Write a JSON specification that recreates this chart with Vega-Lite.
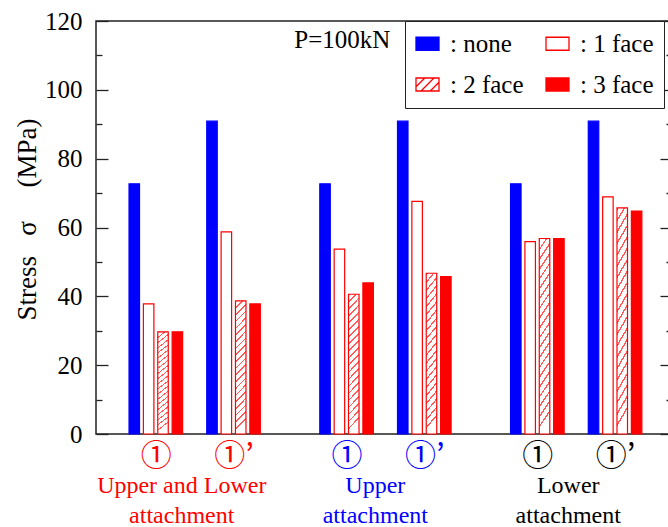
{
  "$schema": "https://vega.github.io/schema/vega-lite/v6.json",
  "width": 576,
  "height": 413,
  "autosize": {"type": "none"},
  "padding": {"left": 96, "top": 21, "right": 0, "bottom": 93},
  "background": "white",
  "config": {"view": {"stroke": "#222222", "strokeWidth": 1.5}, "font": "Liberation Serif"},
  "data": {"values": [
    {"case": "①", "pair": "Upper and Lower", "pos": 0, "series": "none", "value": 72.7},
    {"case": "①", "pair": "Upper and Lower", "pos": 0, "series": "1 face", "value": 37.8},
    {"case": "①", "pair": "Upper and Lower", "pos": 0, "series": "2 face", "value": 29.7},
    {"case": "①", "pair": "Upper and Lower", "pos": 0, "series": "3 face", "value": 29.7},
    {"case": "①’", "pair": "Upper and Lower", "pos": 11, "series": "none", "value": 90.9},
    {"case": "①’", "pair": "Upper and Lower", "pos": 11, "series": "1 face", "value": 58.7},
    {"case": "①’", "pair": "Upper and Lower", "pos": 11, "series": "2 face", "value": 38.7},
    {"case": "①’", "pair": "Upper and Lower", "pos": 11, "series": "3 face", "value": 37.8},
    {"case": "①", "pair": "Upper", "pos": 27, "series": "none", "value": 72.7},
    {"case": "①", "pair": "Upper", "pos": 27, "series": "1 face", "value": 53.7},
    {"case": "①", "pair": "Upper", "pos": 27, "series": "2 face", "value": 40.6},
    {"case": "①", "pair": "Upper", "pos": 27, "series": "3 face", "value": 43.9},
    {"case": "①’", "pair": "Upper", "pos": 38, "series": "none", "value": 90.9},
    {"case": "①’", "pair": "Upper", "pos": 38, "series": "1 face", "value": 67.6},
    {"case": "①’", "pair": "Upper", "pos": 38, "series": "2 face", "value": 46.7},
    {"case": "①’", "pair": "Upper", "pos": 38, "series": "3 face", "value": 45.7},
    {"case": "①", "pair": "Lower", "pos": 54, "series": "none", "value": 72.7},
    {"case": "①", "pair": "Lower", "pos": 54, "series": "1 face", "value": 55.9},
    {"case": "①", "pair": "Lower", "pos": 54, "series": "2 face", "value": 56.8},
    {"case": "①", "pair": "Lower", "pos": 54, "series": "3 face", "value": 56.8},
    {"case": "①’", "pair": "Lower", "pos": 65, "series": "none", "value": 90.9},
    {"case": "①’", "pair": "Lower", "pos": 65, "series": "1 face", "value": 68.9},
    {"case": "①’", "pair": "Lower", "pos": 65, "series": "2 face", "value": 65.7},
    {"case": "①’", "pair": "Lower", "pos": 65, "series": "3 face", "value": 64.8}
  ]},
  "resolve": {"axis": {"x": "independent", "y": "independent"}},
  "layer": [
    {
      "transform": [{"filter": "datum.series === 'none'"}],
      "mark": {"type": "bar", "orient": "vertical", "width": 10.5, "xOffset": -21.55, "strokeWidth": 1.2},
      "encoding": {
        "x": {"field": "pos", "type": "quantitative", "scale": {"domain": [-7.76, 72.35], "nice": false, "zero": false},
          "axis": {"orient": "bottom", "values": [0, 11, 27, 38, 54, 65], "title": null, "domain": false, "ticks": false, "grid": false,
            "labelExpr": "(datum.value == 11 || datum.value == 38 || datum.value == 65) ? '①’' : '①'",
            "labelFont": "Noto Sans CJK JP", "labelFontSize": 31, "labelPadding": 7, "labelFlush": false, "labelOverlap": false, "labelBound": false,
            "labelColor": {"condition": [{"test": "datum.value < 20", "value": "#ff0000"}, {"test": "datum.value < 45", "value": "#0000ff"}], "value": "#000000"}}},
        "y": {"field": "value", "type": "quantitative", "stack": null, "scale": {"domain": [0, 120], "nice": false, "zero": true},
          "axis": {"orient": "left", "values": [0, 10, 20, 30, 40, 50, 60, 70, 80, 90, 100, 110, 120], "grid": false, "domain": false,
            "tickColor": "#222222", "tickWidth": 1.3,
            "tickSize": {"condition": {"test": "datum.value % 20 === 0", "value": -12}, "value": -6},
            "labelExpr": "datum.value % 20 === 0 ? datum.label : ''",
            "labelFont": "Liberation Serif", "labelFontSize": 25, "labelColor": "#000000", "labelPadding": 26,
            "labelOverlap": false, "labelFlush": false, "labelBound": false,
            "title": "Stress\u00a0\u00a0\u00a0σ\u00a0\u00a0\u00a0\u00a0\u00a0(MPa)", "titleFont": "Liberation Serif", "titleFontSize": 27, "titleFontWeight": "normal", "titleColor": "#000000", "titlePadding": 3, "titleY": 198}},
        "fill": {"field": "series", "type": "nominal",
          "scale": {"domain": ["none", "1 face", "2 face", "3 face"], "range": ["#0000ff", "#ffffff", "#ffffff", "#ff0000"]},
          "legend": {"orient": "none", "legendX": 309, "legendY": 0, "columns": 2, "direction": "horizontal", "title": null, "padding": 10, "rowPadding": 15, "columnPadding": 19,
            "labelFont": "Liberation Serif", "labelFontSize": 25, "labelColor": "#000000", "labelOffset": 10,
            "symbolSize": 529, "symbolType": "M-1,-0.565H1V0.565H-1Z", "symbolStrokeWidth": 1.3,
            "strokeColor": "#222222", "fillColor": "#ffffff",
            "labelExpr": "': ' + datum.label + ((datum.label == '1 face' || datum.label == '3 face') ? '\u00a0\u00a0\u00a0' : '')",
            "encode": {"symbols": {"update": {"shape": {"signal": "datum.value === '2 face' ? 'M-1,-0.565H1V0.565H-1Z M-1,0.2L-0.235,-0.565 M-0.565,0.565L0.565,-0.565 M0.235,0.565L1,-0.2' : 'M-1,-0.565H1V0.565H-1Z'"}}}}}},
        "stroke": {"field": "series", "type": "nominal",
          "scale": {"domain": ["none", "1 face", "2 face", "3 face"], "range": ["#0000ff", "#ff0000", "#ff0000", "#ff0000"]},
          "legend": {"orient": "none", "legendX": 309, "legendY": 0, "columns": 2, "direction": "horizontal", "title": null, "padding": 10, "rowPadding": 15, "columnPadding": 19,
            "labelFont": "Liberation Serif", "labelFontSize": 25, "labelColor": "#000000", "labelOffset": 10,
            "symbolSize": 529, "symbolType": "M-1,-0.565H1V0.565H-1Z", "symbolStrokeWidth": 1.3,
            "strokeColor": "#222222", "fillColor": "#ffffff",
            "labelExpr": "': ' + datum.label + ((datum.label == '1 face' || datum.label == '3 face') ? '\u00a0\u00a0\u00a0' : '')",
            "encode": {"symbols": {"update": {"shape": {"signal": "datum.value === '2 face' ? 'M-1,-0.565H1V0.565H-1Z M-1,0.2L-0.235,-0.565 M-0.565,0.565L0.565,-0.565 M0.235,0.565L1,-0.2' : 'M-1,-0.565H1V0.565H-1Z'"}}}}}}
      }
    },
    {
      "transform": [{"filter": "datum.series === '1 face'"}],
      "mark": {"type": "bar", "orient": "vertical", "width": 10.5, "xOffset": -7.18, "fill": "#ffffff", "stroke": "#ff0000", "strokeWidth": 1.2},
      "encoding": {
        "x": {"field": "pos", "type": "quantitative",
          "axis": {"orient": "bottom", "values": [3.6, 31, 58.3], "title": null, "domain": false, "ticks": false, "grid": false,
            "labelExpr": "datum.value < 20 ? ['Upper and Lower', 'attachment'] : datum.value < 45 ? ['Upper', 'attachment'] : ['Lower', 'attachment']",
            "labelFont": "Liberation Serif", "labelFontSize": 24, "labelLineHeight": 30, "labelPadding": 39, "labelFlush": false, "labelOverlap": false, "labelBound": false,
            "labelColor": {"condition": [{"test": "datum.value < 20", "value": "#ff0000"}, {"test": "datum.value < 45", "value": "#0000ff"}], "value": "#000000"},
            "encode": {"labels": {"update": {"font": {"value": "Liberation Serif"}, "fontSize": {"value": 24}}}}}},
        "y": {"field": "value", "type": "quantitative", "stack": null,
          "axis": {"orient": "right", "values": [0, 10, 20, 30, 40, 50, 60, 70, 80, 90, 100, 110, 120], "grid": false, "domain": false, "labels": false, "title": null,
            "tickColor": "#222222", "tickWidth": 1.3,
            "tickSize": {"condition": {"test": "datum.value % 20 === 0", "value": -12}, "value": -6}}}
      }
    },
    {
      "transform": [{"filter": "datum.series === '2 face'"}],
      "mark": {"type": "bar", "orient": "vertical", "width": 10.5, "xOffset": 7.18, "stroke": "#ff0000", "strokeWidth": 1.2,
        "fill": {"gradient": "linear", "x1": 0, "y1": 0, "x2": 0.08, "y2": 1, "stops": [
          {"offset": 0, "color": "#ff5a5a"}, {"offset": 0.012, "color": "#ff5a5a"}, {"offset": 0.012, "color": "#ffffff"}, {"offset": 0.05, "color": "#ffffff"},
          {"offset": 0.05, "color": "#ff5a5a"}, {"offset": 0.062, "color": "#ff5a5a"}, {"offset": 0.062, "color": "#ffffff"}, {"offset": 0.1, "color": "#ffffff"},
          {"offset": 0.1, "color": "#ff5a5a"}, {"offset": 0.112, "color": "#ff5a5a"}, {"offset": 0.112, "color": "#ffffff"}, {"offset": 0.15, "color": "#ffffff"},
          {"offset": 0.15, "color": "#ff5a5a"}, {"offset": 0.162, "color": "#ff5a5a"}, {"offset": 0.162, "color": "#ffffff"}, {"offset": 0.2, "color": "#ffffff"},
          {"offset": 0.2, "color": "#ff5a5a"}, {"offset": 0.212, "color": "#ff5a5a"}, {"offset": 0.212, "color": "#ffffff"}, {"offset": 0.25, "color": "#ffffff"},
          {"offset": 0.25, "color": "#ff5a5a"}, {"offset": 0.262, "color": "#ff5a5a"}, {"offset": 0.262, "color": "#ffffff"}, {"offset": 0.3, "color": "#ffffff"},
          {"offset": 0.3, "color": "#ff5a5a"}, {"offset": 0.312, "color": "#ff5a5a"}, {"offset": 0.312, "color": "#ffffff"}, {"offset": 0.35, "color": "#ffffff"},
          {"offset": 0.35, "color": "#ff5a5a"}, {"offset": 0.362, "color": "#ff5a5a"}, {"offset": 0.362, "color": "#ffffff"}, {"offset": 0.4, "color": "#ffffff"},
          {"offset": 0.4, "color": "#ff5a5a"}, {"offset": 0.412, "color": "#ff5a5a"}, {"offset": 0.412, "color": "#ffffff"}, {"offset": 0.45, "color": "#ffffff"},
          {"offset": 0.45, "color": "#ff5a5a"}, {"offset": 0.462, "color": "#ff5a5a"}, {"offset": 0.462, "color": "#ffffff"}, {"offset": 0.5, "color": "#ffffff"},
          {"offset": 0.5, "color": "#ff5a5a"}, {"offset": 0.512, "color": "#ff5a5a"}, {"offset": 0.512, "color": "#ffffff"}, {"offset": 0.55, "color": "#ffffff"},
          {"offset": 0.55, "color": "#ff5a5a"}, {"offset": 0.562, "color": "#ff5a5a"}, {"offset": 0.562, "color": "#ffffff"}, {"offset": 0.6, "color": "#ffffff"},
          {"offset": 0.6, "color": "#ff5a5a"}, {"offset": 0.612, "color": "#ff5a5a"}, {"offset": 0.612, "color": "#ffffff"}, {"offset": 0.65, "color": "#ffffff"},
          {"offset": 0.65, "color": "#ff5a5a"}, {"offset": 0.662, "color": "#ff5a5a"}, {"offset": 0.662, "color": "#ffffff"}, {"offset": 0.7, "color": "#ffffff"},
          {"offset": 0.7, "color": "#ff5a5a"}, {"offset": 0.712, "color": "#ff5a5a"}, {"offset": 0.712, "color": "#ffffff"}, {"offset": 0.75, "color": "#ffffff"},
          {"offset": 0.75, "color": "#ff5a5a"}, {"offset": 0.762, "color": "#ff5a5a"}, {"offset": 0.762, "color": "#ffffff"}, {"offset": 0.8, "color": "#ffffff"},
          {"offset": 0.8, "color": "#ff5a5a"}, {"offset": 0.812, "color": "#ff5a5a"}, {"offset": 0.812, "color": "#ffffff"}, {"offset": 0.85, "color": "#ffffff"},
          {"offset": 0.85, "color": "#ff5a5a"}, {"offset": 0.862, "color": "#ff5a5a"}, {"offset": 0.862, "color": "#ffffff"}, {"offset": 0.9, "color": "#ffffff"},
          {"offset": 0.9, "color": "#ff5a5a"}, {"offset": 0.912, "color": "#ff5a5a"}, {"offset": 0.912, "color": "#ffffff"}, {"offset": 0.95, "color": "#ffffff"},
          {"offset": 0.95, "color": "#ff5a5a"}, {"offset": 0.962, "color": "#ff5a5a"}, {"offset": 0.962, "color": "#ffffff"}, {"offset": 1, "color": "#ffffff"}
        ]}},
      "encoding": {
        "x": {"field": "pos", "type": "quantitative", "axis": null},
        "y": {"field": "value", "type": "quantitative", "stack": null, "axis": null}
      }
    },
    {
      "transform": [{"filter": "datum.series === '3 face'"}],
      "mark": {"type": "bar", "orient": "vertical", "width": 10.5, "xOffset": 21.55, "fill": "#ff0000", "stroke": "#ff0000", "strokeWidth": 1.2},
      "encoding": {
        "x": {"field": "pos", "type": "quantitative", "axis": null},
        "y": {"field": "value", "type": "quantitative", "stack": null, "axis": null}
      }
    },
    {
      "data": {"values": [{"note": "P=100kN"}]},
      "mark": {"type": "text", "align": "left", "baseline": "alphabetic", "font": "Liberation Serif", "fontSize": 25, "color": "#000000"},
      "encoding": {
        "x": {"datum": 19.6, "type": "quantitative", "axis": null},
        "y": {"datum": 112.07, "type": "quantitative", "axis": null},
        "text": {"field": "note", "type": "nominal"}
      }
    }
  ]
}
